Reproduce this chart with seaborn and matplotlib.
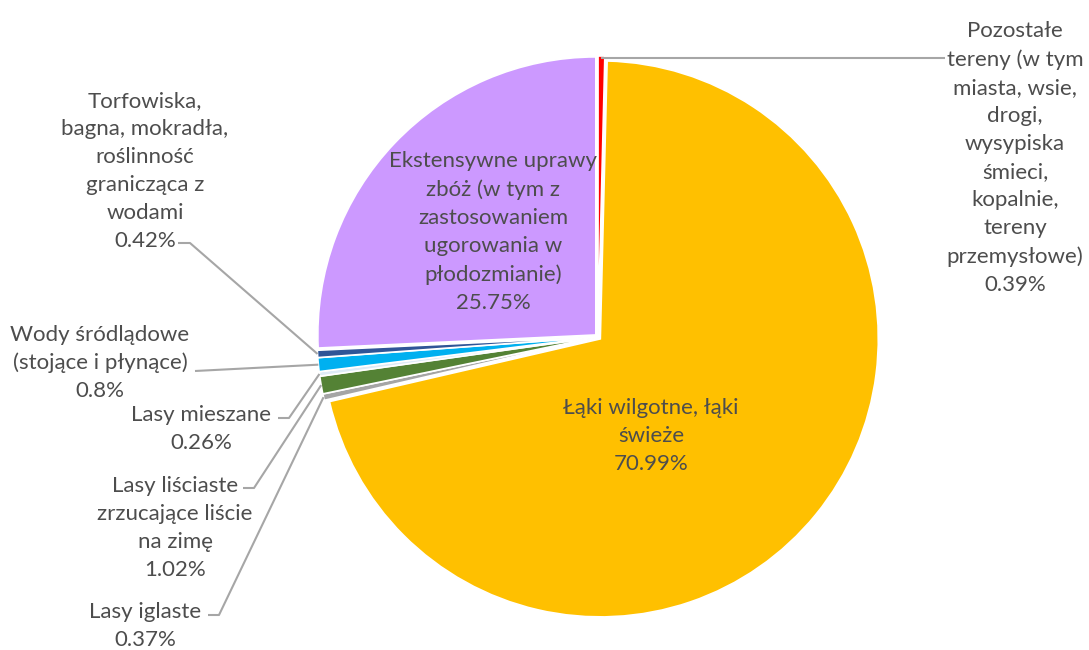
import matplotlib
matplotlib.use("Agg")
import matplotlib.pyplot as plt
import numpy as np
import seaborn as sns

# land-cover shares, clockwise from 12 o'clock
categories = [
    "Pozostałe\ntereny (w tym\nmiasta, wsie,\ndrogi,\nwysypiska\nśmieci,\nkopalnie,\ntereny\nprzemysłowe)",
    "Łąki wilgotne, łąki\nświeże",
    "Lasy iglaste",
    "Lasy liściaste\nzrzucające liście\nna zimę",
    "Lasy mieszane",
    "Wody śródlądowe\n(stojące i płynące)",
    "Torfowiska,\nbagna, mokradła,\nroślinność\ngranicząca z\nwodami",
    "Ekstensywne uprawy\nzbóż (w tym z\nzastosowaniem\nugorowania w\npłodozmianie)",
]
shares = [0.39, 70.99, 0.37, 1.02, 0.26, 0.8, 0.42, 25.75]
share_labels = ["0.39%", "70.99%", "0.37%", "1.02%", "0.26%", "0.8%", "0.42%", "25.75%"]
colors = ["#FF0000", "#FFC000", "#A5A5A5", "#548235", "#DEEBF7", "#00B0F0", "#2F5597", "#CC99FF"]

W, H = 1089, 650
TEXT = "#4D4D4D"
LINE = "#A6A6A6"

sns.set_theme(style="white")
plt.rcParams["font.family"] = ["Lato", "DejaVu Sans"]


def py(y):
    # pixel row -> data y
    return H - y


fig = plt.figure(figsize=(W / 100, H / 100), dpi=100)
ax = fig.add_axes([0, 0, 1, 1])

cx, cy, r = 598, py(337), 278
wedges, _ = ax.pie(
    shares,
    colors=colors,
    startangle=90,
    counterclock=False,
    center=(cx, cy),
    radius=r,
    explode=[3] * len(shares),
    wedgeprops=dict(edgecolor="white", linewidth=1.2),
)
ax.set_xlim(0, W)
ax.set_ylim(0, H)
ax.set_aspect("auto")
ax.axis("off")


def edge_point(w):
    ang = np.deg2rad((w.theta1 + w.theta2) / 2)
    x0, y0 = w.center
    return x0 + w.r * np.cos(ang), y0 + w.r * np.sin(ang)


fs = 16
ls = 1.5
# label placement: (x, y of block centre, leader path start, elbow)
outside = {
    0: (1015, 158, (945, 58), None),
    2: (145, 626, (208, 615), (219, 615)),
    3: (175, 528, (243, 488), (254, 488)),
    4: (201, 429, (278, 418), (289, 418)),
    5: (100, 363, (195, 371), None),
    6: (145, 171, (178, 243), (190, 243)),
}
for i, (tx, ty, start, elbow) in outside.items():
    ax.text(tx, py(ty), categories[i] + "\n" + share_labels[i], ha="center", va="center",
            fontsize=fs, color=TEXT, linespacing=ls)
    ex, ey = edge_point(wedges[i])
    pts = [(start[0], py(start[1]))]
    if elbow is not None:
        pts.append((elbow[0], py(elbow[1])))
    if i == 0:
        pts.append((ex, py(start[1])))
    else:
        pts.append((ex, ey))
    xs, ys = zip(*pts)
    ax.plot(xs, ys, color=LINE, lw=1.5, solid_capstyle="butt")

inside = {1: (651, 436), 7: (493, 232)}
for i, (tx, ty) in inside.items():
    ax.text(tx, py(ty), categories[i] + "\n" + share_labels[i], ha="center", va="center",
            fontsize=fs, color=TEXT, linespacing=ls)

fig.savefig("out.png", dpi=100)
